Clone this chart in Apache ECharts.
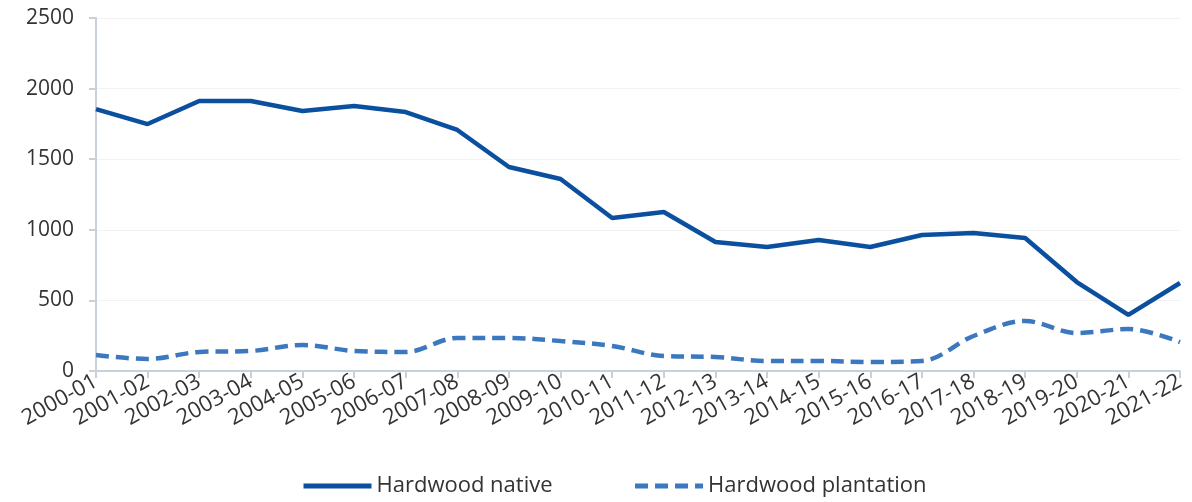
<!DOCTYPE html>
<html><head><meta charset="utf-8">
<script src="https://cdn.jsdelivr.net/npm/echarts@6/dist/echarts.min.js"></script>
<style>html,body{margin:0;padding:0;background:#fff}#c{width:1192px;height:502px}</style>
</head><body><div id="c"></div>
<script>
const categories = ["2000-01","2001-02","2002-03","2003-04","2004-05","2005-06","2006-07","2007-08","2008-09","2009-10","2010-11","2011-12","2012-13","2013-14","2014-15","2015-16","2016-17","2017-18","2018-19","2019-20","2020-21","2021-22"];
const hardwoodNative = [1855,1749,1912,1912,1841,1877,1834,1707,1445,1360,1084,1126,914,878,928,878,963,977,942,630,397,623];
const hardwoodPlantation = [113,85,135,142,184,142,135,234,234,212,177,106,99,71,71,64,71,248,354,269,297,205];
const yTicks = [0,500,1000,1500,2000,2500];

const chart = echarts.init(document.getElementById('c'));
const font = '"Open Sans", Lato, sans-serif';
chart.setOption({
  animation:false,
  grid:{left:96,right:12,top:18,bottom:131,containLabel:false},
  legend:{bottom:0,left:296,itemWidth:68,itemHeight:5,itemGap:80,
    itemStyle:{opacity:0},
    lineStyle:{width:5},
    textStyle:{fontFamily:font,fontSize:22,color:'#333',padding:[0,0,0,0]},
    data:['Hardwood native','Hardwood plantation']},
  xAxis:{type:'category',data:categories,boundaryGap:false,
    axisLine:{lineStyle:{color:'#c9d0dc',width:2}},
    axisTick:{show:true,alignWithLabel:true,length:7,lineStyle:{color:'#c9d0dc',width:2}},
    axisLabel:{rotate:29,fontFamily:font,fontSize:22,color:'#333',margin:9,interval:0}},
  yAxis:{type:'value',min:0,max:yTicks[yTicks.length-1],interval:500,
    axisLine:{show:true,lineStyle:{color:'#c9d0dc',width:2}},
    axisTick:{show:true,length:7,lineStyle:{color:'#c9d0dc',width:2}},
    splitLine:{lineStyle:{color:'#f2f2f2'}},
    axisLabel:{fontFamily:font,fontSize:21,color:'#333',margin:22,formatter:v=>String(v)}},
  series:[
    {name:'Hardwood native',type:'line',data:hardwoodNative,symbol:'none',
     lineStyle:{color:'#0b4f9f',width:4.5},itemStyle:{color:'#0b4f9f'}},
    {name:'Hardwood plantation',type:'line',data:hardwoodPlantation,symbol:'none',smooth:0.35,
     lineStyle:{color:'#3b78bf',width:4.5,type:[13,7]},itemStyle:{color:'#3b78bf'}}
  ]
});
</script></body></html>
